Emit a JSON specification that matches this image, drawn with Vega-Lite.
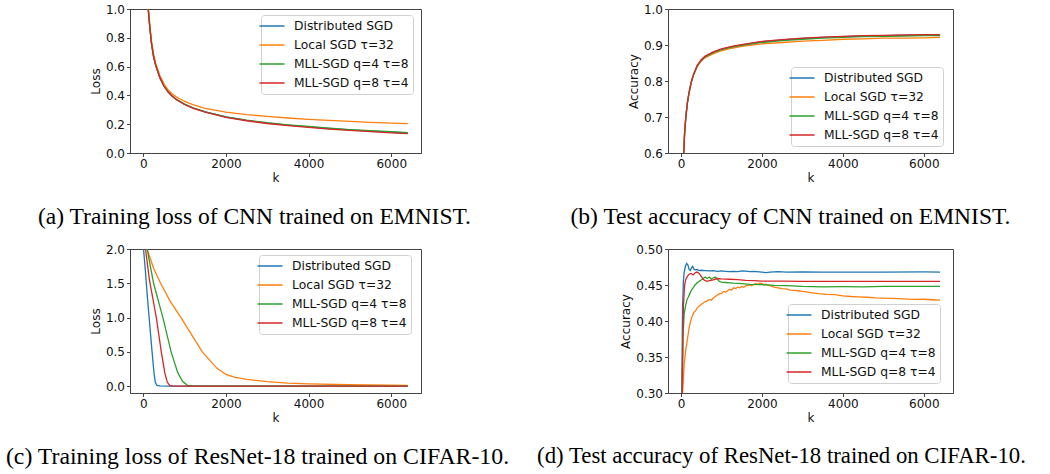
{
  "$schema": "https://vega.github.io/schema/vega-lite/v6.json",
  "background": "white",
  "padding": {"left": 5, "top": 2, "right": 5, "bottom": 5},
  "datasets": {
    "a": [
      {"k":0,"s":"Distributed SGD","v":4.0},{"k":40,"s":"Distributed SGD","v":2.2},{"k":80,"s":"Distributed SGD","v":1.3},{"k":120,"s":"Distributed SGD","v":1.0},{"k":160,"s":"Distributed SGD","v":0.87},{"k":200,"s":"Distributed SGD","v":0.76},{"k":250,"s":"Distributed SGD","v":0.67},{"k":300,"s":"Distributed SGD","v":0.61},{"k":400,"s":"Distributed SGD","v":0.525},{"k":500,"s":"Distributed SGD","v":0.465},{"k":600,"s":"Distributed SGD","v":0.425},{"k":700,"s":"Distributed SGD","v":0.395},{"k":800,"s":"Distributed SGD","v":0.372},{"k":1000,"s":"Distributed SGD","v":0.338},{"k":1200,"s":"Distributed SGD","v":0.313},{"k":1500,"s":"Distributed SGD","v":0.285},{"k":2000,"s":"Distributed SGD","v":0.25},{"k":2500,"s":"Distributed SGD","v":0.226},{"k":3000,"s":"Distributed SGD","v":0.208},{"k":3500,"s":"Distributed SGD","v":0.194},{"k":4000,"s":"Distributed SGD","v":0.181},{"k":4500,"s":"Distributed SGD","v":0.17},{"k":5000,"s":"Distributed SGD","v":0.16},{"k":5500,"s":"Distributed SGD","v":0.152},{"k":6000,"s":"Distributed SGD","v":0.145},{"k":6400,"s":"Distributed SGD","v":0.139},
      {"k":0,"s":"Local SGD τ=32","v":4.0},{"k":40,"s":"Local SGD τ=32","v":2.3},{"k":80,"s":"Local SGD τ=32","v":1.35},{"k":120,"s":"Local SGD τ=32","v":1.03},{"k":160,"s":"Local SGD τ=32","v":0.89},{"k":200,"s":"Local SGD τ=32","v":0.78},{"k":250,"s":"Local SGD τ=32","v":0.69},{"k":300,"s":"Local SGD τ=32","v":0.625},{"k":400,"s":"Local SGD τ=32","v":0.54},{"k":500,"s":"Local SGD τ=32","v":0.48},{"k":600,"s":"Local SGD τ=32","v":0.44},{"k":700,"s":"Local SGD τ=32","v":0.41},{"k":800,"s":"Local SGD τ=32","v":0.39},{"k":1000,"s":"Local SGD τ=32","v":0.358},{"k":1200,"s":"Local SGD τ=32","v":0.336},{"k":1500,"s":"Local SGD τ=32","v":0.31},{"k":2000,"s":"Local SGD τ=32","v":0.284},{"k":2500,"s":"Local SGD τ=32","v":0.267},{"k":3000,"s":"Local SGD τ=32","v":0.254},{"k":3500,"s":"Local SGD τ=32","v":0.243},{"k":4000,"s":"Local SGD τ=32","v":0.234},{"k":4500,"s":"Local SGD τ=32","v":0.226},{"k":5000,"s":"Local SGD τ=32","v":0.219},{"k":5500,"s":"Local SGD τ=32","v":0.213},{"k":6000,"s":"Local SGD τ=32","v":0.207},{"k":6400,"s":"Local SGD τ=32","v":0.204},
      {"k":0,"s":"MLL-SGD q=4 τ=8","v":4.0},{"k":40,"s":"MLL-SGD q=4 τ=8","v":2.2},{"k":80,"s":"MLL-SGD q=4 τ=8","v":1.3},{"k":120,"s":"MLL-SGD q=4 τ=8","v":1.0},{"k":160,"s":"MLL-SGD q=4 τ=8","v":0.87},{"k":200,"s":"MLL-SGD q=4 τ=8","v":0.76},{"k":250,"s":"MLL-SGD q=4 τ=8","v":0.67},{"k":300,"s":"MLL-SGD q=4 τ=8","v":0.61},{"k":400,"s":"MLL-SGD q=4 τ=8","v":0.525},{"k":500,"s":"MLL-SGD q=4 τ=8","v":0.465},{"k":600,"s":"MLL-SGD q=4 τ=8","v":0.425},{"k":700,"s":"MLL-SGD q=4 τ=8","v":0.395},{"k":800,"s":"MLL-SGD q=4 τ=8","v":0.372},{"k":1000,"s":"MLL-SGD q=4 τ=8","v":0.339},{"k":1200,"s":"MLL-SGD q=4 τ=8","v":0.314},{"k":1500,"s":"MLL-SGD q=4 τ=8","v":0.286},{"k":2000,"s":"MLL-SGD q=4 τ=8","v":0.251},{"k":2500,"s":"MLL-SGD q=4 τ=8","v":0.228},{"k":3000,"s":"MLL-SGD q=4 τ=8","v":0.21},{"k":3500,"s":"MLL-SGD q=4 τ=8","v":0.196},{"k":4000,"s":"MLL-SGD q=4 τ=8","v":0.184},{"k":4500,"s":"MLL-SGD q=4 τ=8","v":0.173},{"k":5000,"s":"MLL-SGD q=4 τ=8","v":0.163},{"k":5500,"s":"MLL-SGD q=4 τ=8","v":0.155},{"k":6000,"s":"MLL-SGD q=4 τ=8","v":0.148},{"k":6400,"s":"MLL-SGD q=4 τ=8","v":0.142},
      {"k":0,"s":"MLL-SGD q=8 τ=4","v":4.0},{"k":40,"s":"MLL-SGD q=8 τ=4","v":2.2},{"k":80,"s":"MLL-SGD q=8 τ=4","v":1.3},{"k":120,"s":"MLL-SGD q=8 τ=4","v":1.0},{"k":160,"s":"MLL-SGD q=8 τ=4","v":0.87},{"k":200,"s":"MLL-SGD q=8 τ=4","v":0.76},{"k":250,"s":"MLL-SGD q=8 τ=4","v":0.67},{"k":300,"s":"MLL-SGD q=8 τ=4","v":0.61},{"k":400,"s":"MLL-SGD q=8 τ=4","v":0.525},{"k":500,"s":"MLL-SGD q=8 τ=4","v":0.465},{"k":600,"s":"MLL-SGD q=8 τ=4","v":0.425},{"k":700,"s":"MLL-SGD q=8 τ=4","v":0.394},{"k":800,"s":"MLL-SGD q=8 τ=4","v":0.371},{"k":1000,"s":"MLL-SGD q=8 τ=4","v":0.337},{"k":1200,"s":"MLL-SGD q=8 τ=4","v":0.312},{"k":1500,"s":"MLL-SGD q=8 τ=4","v":0.284},{"k":2000,"s":"MLL-SGD q=8 τ=4","v":0.248},{"k":2500,"s":"MLL-SGD q=8 τ=4","v":0.224},{"k":3000,"s":"MLL-SGD q=8 τ=4","v":0.205},{"k":3500,"s":"MLL-SGD q=8 τ=4","v":0.19},{"k":4000,"s":"MLL-SGD q=8 τ=4","v":0.178},{"k":4500,"s":"MLL-SGD q=8 τ=4","v":0.166},{"k":5000,"s":"MLL-SGD q=8 τ=4","v":0.157},{"k":5500,"s":"MLL-SGD q=8 τ=4","v":0.148},{"k":6000,"s":"MLL-SGD q=8 τ=4","v":0.14},{"k":6400,"s":"MLL-SGD q=8 τ=4","v":0.135}
    ],
    "b": [
      {"k":0,"s":"Distributed SGD","v":0.1},{"k":30,"s":"Distributed SGD","v":0.45},{"k":60,"s":"Distributed SGD","v":0.58},{"k":90,"s":"Distributed SGD","v":0.655},{"k":120,"s":"Distributed SGD","v":0.7},{"k":160,"s":"Distributed SGD","v":0.74},{"k":200,"s":"Distributed SGD","v":0.768},{"k":250,"s":"Distributed SGD","v":0.795},{"k":300,"s":"Distributed SGD","v":0.815},{"k":400,"s":"Distributed SGD","v":0.842},{"k":500,"s":"Distributed SGD","v":0.858},{"k":600,"s":"Distributed SGD","v":0.868},{"k":800,"s":"Distributed SGD","v":0.88},{"k":1000,"s":"Distributed SGD","v":0.888},{"k":1250,"s":"Distributed SGD","v":0.895},{"k":1500,"s":"Distributed SGD","v":0.9},{"k":2000,"s":"Distributed SGD","v":0.909},{"k":2500,"s":"Distributed SGD","v":0.914},{"k":3000,"s":"Distributed SGD","v":0.918},{"k":3500,"s":"Distributed SGD","v":0.921},{"k":4000,"s":"Distributed SGD","v":0.923},{"k":4500,"s":"Distributed SGD","v":0.925},{"k":5000,"s":"Distributed SGD","v":0.926},{"k":5500,"s":"Distributed SGD","v":0.927},{"k":6000,"s":"Distributed SGD","v":0.928},{"k":6400,"s":"Distributed SGD","v":0.928},
      {"k":0,"s":"Local SGD τ=32","v":0.1},{"k":30,"s":"Local SGD τ=32","v":0.47},{"k":60,"s":"Local SGD τ=32","v":0.59},{"k":90,"s":"Local SGD τ=32","v":0.66},{"k":120,"s":"Local SGD τ=32","v":0.703},{"k":160,"s":"Local SGD τ=32","v":0.742},{"k":200,"s":"Local SGD τ=32","v":0.768},{"k":250,"s":"Local SGD τ=32","v":0.794},{"k":300,"s":"Local SGD τ=32","v":0.813},{"k":400,"s":"Local SGD τ=32","v":0.84},{"k":500,"s":"Local SGD τ=32","v":0.855},{"k":600,"s":"Local SGD τ=32","v":0.865},{"k":800,"s":"Local SGD τ=32","v":0.876},{"k":1000,"s":"Local SGD τ=32","v":0.884},{"k":1250,"s":"Local SGD τ=32","v":0.891},{"k":1500,"s":"Local SGD τ=32","v":0.896},{"k":2000,"s":"Local SGD τ=32","v":0.903},{"k":2500,"s":"Local SGD τ=32","v":0.907},{"k":3000,"s":"Local SGD τ=32","v":0.911},{"k":3500,"s":"Local SGD τ=32","v":0.913},{"k":4000,"s":"Local SGD τ=32","v":0.916},{"k":4500,"s":"Local SGD τ=32","v":0.917},{"k":5000,"s":"Local SGD τ=32","v":0.919},{"k":5500,"s":"Local SGD τ=32","v":0.919},{"k":6000,"s":"Local SGD τ=32","v":0.92},{"k":6400,"s":"Local SGD τ=32","v":0.921},
      {"k":0,"s":"MLL-SGD q=4 τ=8","v":0.1},{"k":30,"s":"MLL-SGD q=4 τ=8","v":0.45},{"k":60,"s":"MLL-SGD q=4 τ=8","v":0.58},{"k":90,"s":"MLL-SGD q=4 τ=8","v":0.655},{"k":120,"s":"MLL-SGD q=4 τ=8","v":0.7},{"k":160,"s":"MLL-SGD q=4 τ=8","v":0.74},{"k":200,"s":"MLL-SGD q=4 τ=8","v":0.767},{"k":250,"s":"MLL-SGD q=4 τ=8","v":0.794},{"k":300,"s":"MLL-SGD q=4 τ=8","v":0.814},{"k":400,"s":"MLL-SGD q=4 τ=8","v":0.841},{"k":500,"s":"MLL-SGD q=4 τ=8","v":0.857},{"k":600,"s":"MLL-SGD q=4 τ=8","v":0.867},{"k":800,"s":"MLL-SGD q=4 τ=8","v":0.879},{"k":1000,"s":"MLL-SGD q=4 τ=8","v":0.887},{"k":1250,"s":"MLL-SGD q=4 τ=8","v":0.894},{"k":1500,"s":"MLL-SGD q=4 τ=8","v":0.899},{"k":2000,"s":"MLL-SGD q=4 τ=8","v":0.907},{"k":2500,"s":"MLL-SGD q=4 τ=8","v":0.912},{"k":3000,"s":"MLL-SGD q=4 τ=8","v":0.916},{"k":3500,"s":"MLL-SGD q=4 τ=8","v":0.919},{"k":4000,"s":"MLL-SGD q=4 τ=8","v":0.921},{"k":4500,"s":"MLL-SGD q=4 τ=8","v":0.923},{"k":5000,"s":"MLL-SGD q=4 τ=8","v":0.924},{"k":5500,"s":"MLL-SGD q=4 τ=8","v":0.925},{"k":6000,"s":"MLL-SGD q=4 τ=8","v":0.926},{"k":6400,"s":"MLL-SGD q=4 τ=8","v":0.926},
      {"k":0,"s":"MLL-SGD q=8 τ=4","v":0.1},{"k":30,"s":"MLL-SGD q=8 τ=4","v":0.44},{"k":60,"s":"MLL-SGD q=8 τ=4","v":0.575},{"k":90,"s":"MLL-SGD q=8 τ=4","v":0.652},{"k":120,"s":"MLL-SGD q=8 τ=4","v":0.698},{"k":160,"s":"MLL-SGD q=8 τ=4","v":0.739},{"k":200,"s":"MLL-SGD q=8 τ=4","v":0.768},{"k":250,"s":"MLL-SGD q=8 τ=4","v":0.795},{"k":300,"s":"MLL-SGD q=8 τ=4","v":0.815},{"k":400,"s":"MLL-SGD q=8 τ=4","v":0.843},{"k":500,"s":"MLL-SGD q=8 τ=4","v":0.859},{"k":600,"s":"MLL-SGD q=8 τ=4","v":0.869},{"k":800,"s":"MLL-SGD q=8 τ=4","v":0.881},{"k":1000,"s":"MLL-SGD q=8 τ=4","v":0.889},{"k":1250,"s":"MLL-SGD q=8 τ=4","v":0.896},{"k":1500,"s":"MLL-SGD q=8 τ=4","v":0.901},{"k":2000,"s":"MLL-SGD q=8 τ=4","v":0.91},{"k":2500,"s":"MLL-SGD q=8 τ=4","v":0.915},{"k":3000,"s":"MLL-SGD q=8 τ=4","v":0.919},{"k":3500,"s":"MLL-SGD q=8 τ=4","v":0.922},{"k":4000,"s":"MLL-SGD q=8 τ=4","v":0.924},{"k":4500,"s":"MLL-SGD q=8 τ=4","v":0.926},{"k":5000,"s":"MLL-SGD q=8 τ=4","v":0.927},{"k":5500,"s":"MLL-SGD q=8 τ=4","v":0.928},{"k":6000,"s":"MLL-SGD q=8 τ=4","v":0.929},{"k":6400,"s":"MLL-SGD q=8 τ=4","v":0.929}
    ],
    "c": [
      {"k":0,"s":"Distributed SGD","v":2.05},{"k":50,"s":"Distributed SGD","v":1.7},{"k":100,"s":"Distributed SGD","v":1.3},{"k":143,"s":"Distributed SGD","v":1.0},{"k":214,"s":"Distributed SGD","v":0.5},{"k":260,"s":"Distributed SGD","v":0.2},{"k":290,"s":"Distributed SGD","v":0.06},{"k":330,"s":"Distributed SGD","v":0.012},{"k":400,"s":"Distributed SGD","v":0.003},{"k":600,"s":"Distributed SGD","v":0.001},{"k":6400,"s":"Distributed SGD","v":0.0},
      {"k":0,"s":"Local SGD τ=32","v":2.15},{"k":95,"s":"Local SGD τ=32","v":2.0},{"k":250,"s":"Local SGD τ=32","v":1.72},{"k":420,"s":"Local SGD τ=32","v":1.5},{"k":650,"s":"Local SGD τ=32","v":1.24},{"k":913,"s":"Local SGD τ=32","v":1.0},{"k":1150,"s":"Local SGD τ=32","v":0.77},{"k":1428,"s":"Local SGD τ=32","v":0.5},{"k":1786,"s":"Local SGD τ=32","v":0.26},{"k":2000,"s":"Local SGD τ=32","v":0.17},{"k":2200,"s":"Local SGD τ=32","v":0.13},{"k":2500,"s":"Local SGD τ=32","v":0.1},{"k":3000,"s":"Local SGD τ=32","v":0.065},{"k":3500,"s":"Local SGD τ=32","v":0.045},{"k":4000,"s":"Local SGD τ=32","v":0.033},{"k":5000,"s":"Local SGD τ=32","v":0.02},{"k":6400,"s":"Local SGD τ=32","v":0.012},
      {"k":0,"s":"MLL-SGD q=4 τ=8","v":2.4},{"k":95,"s":"MLL-SGD q=4 τ=8","v":2.0},{"k":250,"s":"MLL-SGD q=4 τ=8","v":1.5},{"k":476,"s":"MLL-SGD q=4 τ=8","v":1.0},{"k":675,"s":"MLL-SGD q=4 τ=8","v":0.5},{"k":833,"s":"MLL-SGD q=4 τ=8","v":0.2},{"k":950,"s":"MLL-SGD q=4 τ=8","v":0.07},{"k":1070,"s":"MLL-SGD q=4 τ=8","v":0.012},{"k":1200,"s":"MLL-SGD q=4 τ=8","v":0.003},{"k":1500,"s":"MLL-SGD q=4 τ=8","v":0.001},{"k":6400,"s":"MLL-SGD q=4 τ=8","v":0.0},
      {"k":0,"s":"MLL-SGD q=8 τ=4","v":2.3},{"k":55,"s":"MLL-SGD q=8 τ=4","v":2.0},{"k":150,"s":"MLL-SGD q=8 τ=4","v":1.55},{"k":317,"s":"MLL-SGD q=8 τ=4","v":1.0},{"k":437,"s":"MLL-SGD q=8 τ=4","v":0.5},{"k":520,"s":"MLL-SGD q=8 τ=4","v":0.2},{"k":580,"s":"MLL-SGD q=8 τ=4","v":0.06},{"k":640,"s":"MLL-SGD q=8 τ=4","v":0.012},{"k":700,"s":"MLL-SGD q=8 τ=4","v":0.003},{"k":900,"s":"MLL-SGD q=8 τ=4","v":0.001},{"k":6400,"s":"MLL-SGD q=8 τ=4","v":0.0}
    ],
    "d": [
      {"k":0,"s":"Distributed SGD","v":0.1},{"k":20,"s":"Distributed SGD","v":0.3},{"k":40,"s":"Distributed SGD","v":0.42},{"k":60,"s":"Distributed SGD","v":0.455},{"k":80,"s":"Distributed SGD","v":0.468},{"k":110,"s":"Distributed SGD","v":0.476},{"k":140,"s":"Distributed SGD","v":0.48},{"k":170,"s":"Distributed SGD","v":0.478},{"k":200,"s":"Distributed SGD","v":0.472},{"k":230,"s":"Distributed SGD","v":0.47},{"k":260,"s":"Distributed SGD","v":0.474},{"k":290,"s":"Distributed SGD","v":0.476},{"k":320,"s":"Distributed SGD","v":0.472},{"k":360,"s":"Distributed SGD","v":0.471},{"k":400,"s":"Distributed SGD","v":0.4715},{"k":450,"s":"Distributed SGD","v":0.47},{"k":500,"s":"Distributed SGD","v":0.4705},{"k":600,"s":"Distributed SGD","v":0.47},{"k":700,"s":"Distributed SGD","v":0.4695},{"k":800,"s":"Distributed SGD","v":0.47},{"k":900,"s":"Distributed SGD","v":0.469},{"k":1000,"s":"Distributed SGD","v":0.4695},{"k":1100,"s":"Distributed SGD","v":0.469},{"k":1200,"s":"Distributed SGD","v":0.4685},{"k":1300,"s":"Distributed SGD","v":0.469},{"k":1400,"s":"Distributed SGD","v":0.4685},{"k":1500,"s":"Distributed SGD","v":0.4695},{"k":1600,"s":"Distributed SGD","v":0.4692},{"k":1700,"s":"Distributed SGD","v":0.4685},{"k":1800,"s":"Distributed SGD","v":0.469},{"k":2000,"s":"Distributed SGD","v":0.468},{"k":2100,"s":"Distributed SGD","v":0.4672},{"k":2200,"s":"Distributed SGD","v":0.468},{"k":2400,"s":"Distributed SGD","v":0.4685},{"k":2600,"s":"Distributed SGD","v":0.468},{"k":3000,"s":"Distributed SGD","v":0.4683},{"k":3500,"s":"Distributed SGD","v":0.468},{"k":4000,"s":"Distributed SGD","v":0.468},{"k":5000,"s":"Distributed SGD","v":0.468},{"k":6000,"s":"Distributed SGD","v":0.4682},{"k":6400,"s":"Distributed SGD","v":0.468},
      {"k":0,"s":"Local SGD τ=32","v":0.1},{"k":40,"s":"Local SGD τ=32","v":0.3},{"k":80,"s":"Local SGD τ=32","v":0.34},{"k":120,"s":"Local SGD τ=32","v":0.36},{"k":160,"s":"Local SGD τ=32","v":0.375},{"k":200,"s":"Local SGD τ=32","v":0.39},{"k":240,"s":"Local SGD τ=32","v":0.4},{"k":280,"s":"Local SGD τ=32","v":0.407},{"k":320,"s":"Local SGD τ=32","v":0.412},{"k":360,"s":"Local SGD τ=32","v":0.414},{"k":400,"s":"Local SGD τ=32","v":0.418},{"k":450,"s":"Local SGD τ=32","v":0.421},{"k":500,"s":"Local SGD τ=32","v":0.423},{"k":550,"s":"Local SGD τ=32","v":0.425},{"k":600,"s":"Local SGD τ=32","v":0.427},{"k":650,"s":"Local SGD τ=32","v":0.428},{"k":700,"s":"Local SGD τ=32","v":0.43},{"k":750,"s":"Local SGD τ=32","v":0.429},{"k":800,"s":"Local SGD τ=32","v":0.432},{"k":850,"s":"Local SGD τ=32","v":0.434},{"k":900,"s":"Local SGD τ=32","v":0.436},{"k":950,"s":"Local SGD τ=32","v":0.438},{"k":1000,"s":"Local SGD τ=32","v":0.438},{"k":1050,"s":"Local SGD τ=32","v":0.441},{"k":1100,"s":"Local SGD τ=32","v":0.44},{"k":1150,"s":"Local SGD τ=32","v":0.442},{"k":1200,"s":"Local SGD τ=32","v":0.444},{"k":1250,"s":"Local SGD τ=32","v":0.443},{"k":1300,"s":"Local SGD τ=32","v":0.446},{"k":1350,"s":"Local SGD τ=32","v":0.445},{"k":1400,"s":"Local SGD τ=32","v":0.447},{"k":1450,"s":"Local SGD τ=32","v":0.446},{"k":1500,"s":"Local SGD τ=32","v":0.448},{"k":1550,"s":"Local SGD τ=32","v":0.447},{"k":1600,"s":"Local SGD τ=32","v":0.449},{"k":1650,"s":"Local SGD τ=32","v":0.449},{"k":1700,"s":"Local SGD τ=32","v":0.45},{"k":1750,"s":"Local SGD τ=32","v":0.449},{"k":1800,"s":"Local SGD τ=32","v":0.451},{"k":1850,"s":"Local SGD τ=32","v":0.452},{"k":1900,"s":"Local SGD τ=32","v":0.451},{"k":1950,"s":"Local SGD τ=32","v":0.4525},{"k":2000,"s":"Local SGD τ=32","v":0.452},{"k":2050,"s":"Local SGD τ=32","v":0.45},{"k":2100,"s":"Local SGD τ=32","v":0.451},{"k":2200,"s":"Local SGD τ=32","v":0.449},{"k":2300,"s":"Local SGD τ=32","v":0.447},{"k":2400,"s":"Local SGD τ=32","v":0.446},{"k":2500,"s":"Local SGD τ=32","v":0.445},{"k":2600,"s":"Local SGD τ=32","v":0.4445},{"k":2700,"s":"Local SGD τ=32","v":0.443},{"k":2800,"s":"Local SGD τ=32","v":0.4425},{"k":2900,"s":"Local SGD τ=32","v":0.442},{"k":3000,"s":"Local SGD τ=32","v":0.441},{"k":3200,"s":"Local SGD τ=32","v":0.4395},{"k":3400,"s":"Local SGD τ=32","v":0.438},{"k":3600,"s":"Local SGD τ=32","v":0.437},{"k":3800,"s":"Local SGD τ=32","v":0.4365},{"k":4000,"s":"Local SGD τ=32","v":0.435},{"k":4200,"s":"Local SGD τ=32","v":0.434},{"k":4400,"s":"Local SGD τ=32","v":0.4335},{"k":4600,"s":"Local SGD τ=32","v":0.433},{"k":4800,"s":"Local SGD τ=32","v":0.432},{"k":5000,"s":"Local SGD τ=32","v":0.4318},{"k":5200,"s":"Local SGD τ=32","v":0.4315},{"k":5400,"s":"Local SGD τ=32","v":0.431},{"k":5600,"s":"Local SGD τ=32","v":0.4305},{"k":5800,"s":"Local SGD τ=32","v":0.43},{"k":6000,"s":"Local SGD τ=32","v":0.4302},{"k":6200,"s":"Local SGD τ=32","v":0.4295},{"k":6400,"s":"Local SGD τ=32","v":0.429},
      {"k":0,"s":"MLL-SGD q=4 τ=8","v":0.1},{"k":30,"s":"MLL-SGD q=4 τ=8","v":0.3},{"k":50,"s":"MLL-SGD q=4 τ=8","v":0.38},{"k":80,"s":"MLL-SGD q=4 τ=8","v":0.41},{"k":110,"s":"MLL-SGD q=4 τ=8","v":0.42},{"k":150,"s":"MLL-SGD q=4 τ=8","v":0.43},{"k":180,"s":"MLL-SGD q=4 τ=8","v":0.433},{"k":220,"s":"MLL-SGD q=4 τ=8","v":0.438},{"k":260,"s":"MLL-SGD q=4 τ=8","v":0.443},{"k":300,"s":"MLL-SGD q=4 τ=8","v":0.446},{"k":350,"s":"MLL-SGD q=4 τ=8","v":0.45},{"k":400,"s":"MLL-SGD q=4 τ=8","v":0.453},{"k":450,"s":"MLL-SGD q=4 τ=8","v":0.455},{"k":500,"s":"MLL-SGD q=4 τ=8","v":0.457},{"k":550,"s":"MLL-SGD q=4 τ=8","v":0.459},{"k":600,"s":"MLL-SGD q=4 τ=8","v":0.461},{"k":650,"s":"MLL-SGD q=4 τ=8","v":0.459},{"k":700,"s":"MLL-SGD q=4 τ=8","v":0.461},{"k":750,"s":"MLL-SGD q=4 τ=8","v":0.458},{"k":800,"s":"MLL-SGD q=4 τ=8","v":0.46},{"k":850,"s":"MLL-SGD q=4 τ=8","v":0.461},{"k":900,"s":"MLL-SGD q=4 τ=8","v":0.458},{"k":950,"s":"MLL-SGD q=4 τ=8","v":0.455},{"k":1000,"s":"MLL-SGD q=4 τ=8","v":0.454},{"k":1100,"s":"MLL-SGD q=4 τ=8","v":0.4535},{"k":1200,"s":"MLL-SGD q=4 τ=8","v":0.453},{"k":1300,"s":"MLL-SGD q=4 τ=8","v":0.4525},{"k":1500,"s":"MLL-SGD q=4 τ=8","v":0.452},{"k":1700,"s":"MLL-SGD q=4 τ=8","v":0.451},{"k":2000,"s":"MLL-SGD q=4 τ=8","v":0.4505},{"k":2300,"s":"MLL-SGD q=4 τ=8","v":0.4495},{"k":2600,"s":"MLL-SGD q=4 τ=8","v":0.449},{"k":3000,"s":"MLL-SGD q=4 τ=8","v":0.448},{"k":3500,"s":"MLL-SGD q=4 τ=8","v":0.4475},{"k":4000,"s":"MLL-SGD q=4 τ=8","v":0.4478},{"k":4500,"s":"MLL-SGD q=4 τ=8","v":0.4475},{"k":5000,"s":"MLL-SGD q=4 τ=8","v":0.448},{"k":6000,"s":"MLL-SGD q=4 τ=8","v":0.448},{"k":6400,"s":"MLL-SGD q=4 τ=8","v":0.448},
      {"k":0,"s":"MLL-SGD q=8 τ=4","v":0.1},{"k":30,"s":"MLL-SGD q=8 τ=4","v":0.3},{"k":60,"s":"MLL-SGD q=8 τ=4","v":0.42},{"k":90,"s":"MLL-SGD q=8 τ=4","v":0.45},{"k":120,"s":"MLL-SGD q=8 τ=4","v":0.458},{"k":160,"s":"MLL-SGD q=8 τ=4","v":0.462},{"k":200,"s":"MLL-SGD q=8 τ=4","v":0.465},{"k":250,"s":"MLL-SGD q=8 τ=4","v":0.466},{"k":300,"s":"MLL-SGD q=8 τ=4","v":0.464},{"k":350,"s":"MLL-SGD q=8 τ=4","v":0.467},{"k":400,"s":"MLL-SGD q=8 τ=4","v":0.468},{"k":450,"s":"MLL-SGD q=8 τ=4","v":0.466},{"k":500,"s":"MLL-SGD q=8 τ=4","v":0.462},{"k":550,"s":"MLL-SGD q=8 τ=4","v":0.458},{"k":600,"s":"MLL-SGD q=8 τ=4","v":0.456},{"k":650,"s":"MLL-SGD q=8 τ=4","v":0.455},{"k":700,"s":"MLL-SGD q=8 τ=4","v":0.456},{"k":800,"s":"MLL-SGD q=8 τ=4","v":0.457},{"k":900,"s":"MLL-SGD q=8 τ=4","v":0.459},{"k":1000,"s":"MLL-SGD q=8 τ=4","v":0.4585},{"k":1200,"s":"MLL-SGD q=8 τ=4","v":0.458},{"k":1400,"s":"MLL-SGD q=8 τ=4","v":0.4575},{"k":1600,"s":"MLL-SGD q=8 τ=4","v":0.4565},{"k":1800,"s":"MLL-SGD q=8 τ=4","v":0.456},{"k":2000,"s":"MLL-SGD q=8 τ=4","v":0.4555},{"k":2500,"s":"MLL-SGD q=8 τ=4","v":0.4555},{"k":3000,"s":"MLL-SGD q=8 τ=4","v":0.455},{"k":4000,"s":"MLL-SGD q=8 τ=4","v":0.455},{"k":5000,"s":"MLL-SGD q=8 τ=4","v":0.455},{"k":6000,"s":"MLL-SGD q=8 τ=4","v":0.455},{"k":6400,"s":"MLL-SGD q=8 τ=4","v":0.455}
    ]
  },
  "columns": 2,
  "bounds": "flush",
  "spacing": {"row": 96, "column": 247},
  "resolve": {"scale": {"x": "independent", "y": "independent", "color": "independent"}, "legend": {"color": "independent"}},
  "concat": [
    {
      "data": {"name": "a"},
      "width": 291, "height": 144,
      "title": {"text": "(a) Training loss of CNN trained on EMNIST.", "orient": "bottom", "dx": -21, "offset": 21, "fontSize": 23.5},
      "mark": {"type": "line", "clip": true, "strokeWidth": 1.3},
      "encoding": {
        "x": {"field": "k", "type": "quantitative", "scale": {"domain": [-320, 6720], "nice": false, "zero": false}, "axis": {"values": [0, 2000, 4000, 6000], "format": "d", "title": "k"}},
        "y": {"field": "v", "type": "quantitative", "scale": {"domain": [0, 1], "nice": false, "zero": false}, "axis": {"values": [0, 0.2, 0.4, 0.6, 0.8, 1.0], "format": ".1f", "title": "Loss"}},
        "color": {"field": "s", "type": "nominal", "scale": {"domain": ["Distributed SGD", "Local SGD τ=32", "MLL-SGD q=4 τ=8", "MLL-SGD q=8 τ=4"], "range": ["#1f77b4", "#ff7f0e", "#2ca02c", "#d62728"]}, "legend": {"title": null, "orient": "none", "legendX": 131, "legendY": 6}}
      }
    },
    {
      "data": {"name": "b"},
      "width": 285, "height": 144,
      "title": {"text": "(b) Test accuracy of CNN trained on EMNIST.", "orient": "bottom", "dx": -20, "offset": 21, "fontSize": 23.5},
      "mark": {"type": "line", "clip": true, "strokeWidth": 1.3},
      "encoding": {
        "x": {"field": "k", "type": "quantitative", "scale": {"domain": [-320, 6720], "nice": false, "zero": false}, "axis": {"values": [0, 2000, 4000, 6000], "format": "d", "title": "k"}},
        "y": {"field": "v", "type": "quantitative", "scale": {"domain": [0.6, 1.0], "nice": false, "zero": false}, "axis": {"values": [0.6, 0.7, 0.8, 0.9, 1.0], "format": ".1f", "title": "Accuracy"}},
        "color": {"field": "s", "type": "nominal", "scale": {"domain": ["Distributed SGD", "Local SGD τ=32", "MLL-SGD q=4 τ=8", "MLL-SGD q=8 τ=4"], "range": ["#1f77b4", "#ff7f0e", "#2ca02c", "#d62728"]}, "legend": {"title": null, "orient": "none", "legendX": 123, "legendY": 58}}
      }
    },
    {
      "data": {"name": "c"},
      "width": 291, "height": 144,
      "title": {"text": "(c) Training loss of ResNet-18 trained on CIFAR-10.", "orient": "bottom", "dx": -18, "offset": 21, "fontSize": 23.8},
      "mark": {"type": "line", "clip": true, "strokeWidth": 1.3},
      "encoding": {
        "x": {"field": "k", "type": "quantitative", "scale": {"domain": [-320, 6720], "nice": false, "zero": false}, "axis": {"values": [0, 2000, 4000, 6000], "format": "d", "title": "k"}},
        "y": {"field": "v", "type": "quantitative", "scale": {"domain": [-0.1, 2.0], "nice": false, "zero": false}, "axis": {"values": [0, 0.5, 1.0, 1.5, 2.0], "format": ".1f", "title": "Loss"}},
        "color": {"field": "s", "type": "nominal", "scale": {"domain": ["Distributed SGD", "Local SGD τ=32", "MLL-SGD q=4 τ=8", "MLL-SGD q=8 τ=4"], "range": ["#1f77b4", "#ff7f0e", "#2ca02c", "#d62728"]}, "legend": {"title": null, "orient": "none", "legendX": 129, "legendY": 6}}
      }
    },
    {
      "data": {"name": "d"},
      "width": 285, "height": 144,
      "title": {"text": "(d) Test accuracy of ResNet-18 trained on CIFAR-10.", "orient": "bottom", "dx": -29, "offset": 21, "fontSize": 22.8},
      "mark": {"type": "line", "clip": true, "strokeWidth": 1.3},
      "encoding": {
        "x": {"field": "k", "type": "quantitative", "scale": {"domain": [-320, 6720], "nice": false, "zero": false}, "axis": {"values": [0, 2000, 4000, 6000], "format": "d", "title": "k"}},
        "y": {"field": "v", "type": "quantitative", "scale": {"domain": [0.3, 0.5], "nice": false, "zero": false}, "axis": {"values": [0.3, 0.35, 0.4, 0.45, 0.5], "format": ".2f", "title": "Accuracy"}},
        "color": {"field": "s", "type": "nominal", "scale": {"domain": ["Distributed SGD", "Local SGD τ=32", "MLL-SGD q=4 τ=8", "MLL-SGD q=8 τ=4"], "range": ["#1f77b4", "#ff7f0e", "#2ca02c", "#d62728"]}, "legend": {"title": null, "orient": "none", "legendX": 120, "legendY": 55}}
      }
    }
  ],
  "config": {
    "view": {"stroke": "#444", "strokeWidth": 1},
    "axis": {"domainColor": "#444", "tickColor": "#444", "labelFont": "DejaVu Sans", "labelFontSize": 12, "labelColor": "#111", "titleFont": "DejaVu Sans", "titleFontSize": 12, "titleFontWeight": "normal", "titleColor": "#111", "grid": false, "tickSize": 3.5, "labelPadding": 2, "titlePadding": 3},
    "title": {"font": "Liberation Serif", "fontSize": 24, "fontWeight": "normal", "color": "#000", "anchor": "middle", "frame": "group"},
    "legend": {"labelFont": "DejaVu Sans", "labelFontSize": 12.3, "labelColor": "#111", "symbolType": "M-2,0H2", "symbolSize": 156, "symbolStrokeWidth": 1.5, "labelOffset": 15, "padding": 4, "rowPadding": 5, "fillColor": "white", "strokeColor": "#d0d0d0", "cornerRadius": 3, "labelLimit": 300}
  }
}
